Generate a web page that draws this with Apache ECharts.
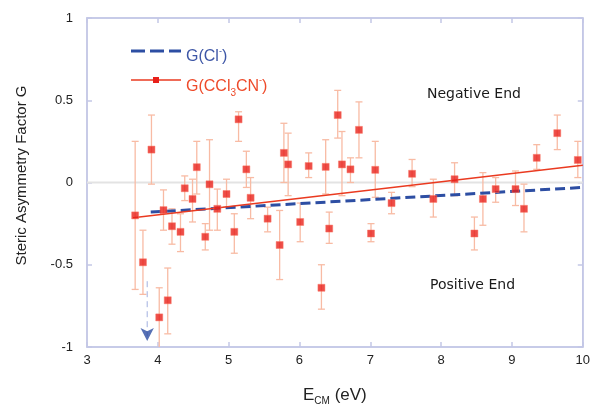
<!DOCTYPE html>
<html>
<head>
<meta charset="utf-8">
<script src="https://cdn.jsdelivr.net/npm/echarts@6/dist/echarts.min.js"></script>
<style>
  html, body { margin: 0; padding: 0; background: #fff; }
  #chart { width: 593px; height: 411px; }
</style>
</head>
<body>
<div id="chart"></div>
<script>
// Collision energy (eV) of each measurement
const energy = [3.68, 3.79, 3.91, 4.02, 4.08, 4.14, 4.20, 4.32, 4.38, 4.49, 4.55, 4.67, 4.73, 4.84, 4.97,
  5.08, 5.14, 5.25, 5.31, 5.55, 5.72, 5.78, 5.84, 6.01, 6.13, 6.31, 6.37, 6.42, 6.54, 6.60, 6.72, 6.84,
  7.01, 7.07, 7.30, 7.59, 7.89, 8.19, 8.47, 8.59, 8.77, 9.05, 9.17, 9.35, 9.64, 9.93];
// Steric asymmetry factor G for CCl3CN-
const gValues = [-0.20, -0.485, 0.20, -0.82, -0.168, -0.716, -0.266, -0.30, -0.035, -0.10, 0.093, -0.33, -0.011, -0.16, -0.07,
  -0.30, 0.384, 0.08, -0.093, -0.22, -0.38, 0.18, 0.11, -0.24, 0.10, -0.64, 0.095, -0.28, 0.41, 0.11, 0.08, 0.32,
  -0.31, 0.077, -0.125, 0.053, -0.10, 0.02, -0.31, -0.10, -0.04, -0.04, -0.16, 0.15, 0.30, 0.137];
// Lower / upper ends of the error bars
const errLow = [-0.65, -0.68, -0.01, -1.1, -0.29, -0.92, -0.375, -0.42, -0.11, -0.24, -0.07, -0.41, -0.29, -0.29, -0.15,
  -0.43, 0.25, -0.03, -0.22, -0.30, -0.59, 0.0, -0.08, -0.36, 0.03, -0.77, -0.07, -0.37, 0.27, -0.08, 0.0, 0.15,
  -0.36, -0.09, -0.19, -0.025, -0.21, -0.08, -0.41, -0.26, -0.12, -0.14, -0.30, 0.08, 0.20, 0.03];
const errHigh = [0.25, -0.29, 0.41, -0.64, -0.045, -0.52, -0.16, -0.19, 0.04, 0.02, 0.25, -0.25, 0.26, -0.04, 0.02,
  -0.19, 0.43, 0.19, 0.03, -0.15, -0.17, 0.36, 0.30, -0.125, 0.18, -0.50, 0.26, -0.18, 0.56, 0.31, 0.15, 0.49,
  -0.25, 0.25, -0.06, 0.14, 0.02, 0.12, -0.21, 0.06, 0.03, 0.07, -0.01, 0.23, 0.41, 0.25];

// Linear fits
const fitCCl3CN = [[3.65, -0.215], [10, 0.105]];
const fitCl = [[3.9, -0.18], [10, -0.03]];
// Threshold marker for Cl-
const thresholdX = 3.85;
const thresholdLine = [[thresholdX, -0.60], [thresholdX, -0.935]];
const thresholdTip = [[thresholdX, -0.963]];

const xTicks = { min: 3, max: 10, interval: 1 };
const yTicks = { min: -1, max: 1, interval: 0.5 };

const points = energy.map((e, i) => [e, gValues[i]]);
const bars = energy.map((e, i) => [e, errLow[i], errHigh[i]]);

const frameColor = '#c4c7e6';
const labelFont = { fontFamily: 'Liberation Sans, Arial, sans-serif', fontSize: 13, color: '#222' };

const chart = echarts.init(document.getElementById('chart'), null, { renderer: 'canvas' });

const axisCommon = {
  axisLine: { show: true, onZero: false, lineStyle: { color: frameColor, width: 1.5 } },
  axisTick: { show: true, inside: true, length: 5, lineStyle: { color: frameColor, width: 1.5 } },
  splitLine: { show: false }
};

chart.setOption({
  animation: false,
  backgroundColor: '#fff',
  grid: {
    left: 87, right: 6, top: 18, bottom: 61, containLabel: false,
    show: true, borderColor: frameColor, borderWidth: 1.5, backgroundColor: 'transparent'
  },
  xAxis: [
    Object.assign({
      type: 'value', position: 'bottom', min: xTicks.min, max: xTicks.max, interval: xTicks.interval,
      axisLabel: Object.assign({ margin: 7 }, labelFont),
      name: '{e|E}{sub|CM}{e| (eV)}',
      nameLocation: 'middle', nameGap: 37,
      nameTextStyle: {
        rich: {
          e: { fontFamily: 'Liberation Sans, Arial, sans-serif', fontSize: 17, color: '#222' },
          sub: { fontFamily: 'Liberation Sans, Arial, sans-serif', fontSize: 10, color: '#222', verticalAlign: 'bottom', padding: [12, 0, 0, 0] }
        }
      }
    }, axisCommon),
    Object.assign({
      type: 'value', position: 'top', min: xTicks.min, max: xTicks.max, interval: xTicks.interval,
      axisLabel: { show: false }
    }, axisCommon)
  ],
  yAxis: [
    Object.assign({
      type: 'value', position: 'left', min: yTicks.min, max: yTicks.max, interval: yTicks.interval,
      axisLabel: Object.assign({ margin: 14 }, labelFont),
      name: 'Steric Asymmetry Factor G',
      nameLocation: 'middle', nameGap: 58, nameRotate: 90,
      nameTextStyle: { fontFamily: 'Liberation Sans, Arial, sans-serif', fontSize: 15, color: '#222', padding: [0, 0, 0, 14] }
    }, axisCommon),
    Object.assign({
      type: 'value', position: 'right', min: yTicks.min, max: yTicks.max, interval: yTicks.interval,
      axisLabel: { show: false }
    }, axisCommon)
  ],
  series: [
    {
      // zero reference line
      type: 'line', data: [[3, 0], [10, 0]], symbol: 'none', silent: true, z: 1,
      lineStyle: { color: '#e3e3e3', width: 2 }
    },
    {
      type: 'custom', name: 'errors', z: 2, clip: true,
      data: bars,
      renderItem: function (params, api) {
        const x = api.value(0);
        const lo = api.coord([x, api.value(1)]);
        const hi = api.coord([x, api.value(2)]);
        const cap = 3.5;
        const style = { stroke: '#f8bba4', lineWidth: 1.3, fill: null };
        return {
          type: 'group',
          children: [
            { type: 'line', shape: { x1: lo[0], y1: lo[1], x2: hi[0], y2: hi[1] }, style: style },
            { type: 'line', shape: { x1: lo[0] - cap, y1: lo[1], x2: lo[0] + cap, y2: lo[1] }, style: style },
            { type: 'line', shape: { x1: hi[0] - cap, y1: hi[1], x2: hi[0] + cap, y2: hi[1] }, style: style }
          ]
        };
      }
    },
    {
      type: 'line', name: 'G(Cl-)', data: fitCl, symbol: 'none', z: 3,
      lineStyle: { color: '#2d4ea3', width: 3, type: [10, 5] }
    },
    {
      type: 'line', name: 'G(CCl3CN-)', data: fitCCl3CN, symbol: 'none', z: 4,
      lineStyle: { color: '#ea3a20', width: 1.5 }
    },
    {
      type: 'scatter', name: 'G(CCl3CN-) data', data: points, z: 5,
      symbol: 'rect', symbolSize: 7,
      itemStyle: { color: '#e8201a', borderColor: 'rgba(250,120,100,0.6)', borderWidth: 1 }
    },
    {
      type: 'line', data: thresholdLine, symbol: 'none', z: 3,
      lineStyle: { color: '#a3b0e0', width: 1, type: [6, 4] }
    },
    {
      type: 'scatter', data: thresholdTip, z: 6, symbol: 'arrow', symbolRotate: 180, symbolSize: [10, 13],
      itemStyle: { color: '#2d4ea3' }
    }
  ],
  graphic: [
    // legend
    { type: 'line', shape: { x1: 131, y1: 51, x2: 181, y2: 51 }, style: { stroke: '#2d4ea3', lineWidth: 3, lineDash: [14, 5] } },
    {
      type: 'text', left: 186, top: 47,
      style: {
        text: '{t|G(Cl}{sup|-}{t|)}',
        rich: {
          t: { fontFamily: 'Liberation Sans, Arial, sans-serif', fontSize: 16, fill: '#3d56a6' },
          sup: { fontFamily: 'Liberation Sans, Arial, sans-serif', fontSize: 9, fill: '#3d56a6', verticalAlign: 'top', padding: [0, 0, 10, 0] }
        }
      }
    },
    { type: 'line', shape: { x1: 131, y1: 80, x2: 181, y2: 80 }, style: { stroke: '#ea3a20', lineWidth: 1.5 } },
    { type: 'rect', shape: { x: 153, y: 77, width: 6, height: 6 }, style: { fill: '#e8201a' } },
    {
      type: 'text', left: 186, top: 76,
      style: {
        text: '{t|G(CCl}{sub|3}{t|CN}{sup|-}{t|)}',
        rich: {
          t: { fontFamily: 'Liberation Sans, Arial, sans-serif', fontSize: 16, fill: '#ee4a2a' },
          sub: { fontFamily: 'Liberation Sans, Arial, sans-serif', fontSize: 10, fill: '#ee4a2a', verticalAlign: 'bottom', padding: [12, 0, 0, 0] },
          sup: { fontFamily: 'Liberation Sans, Arial, sans-serif', fontSize: 9, fill: '#ee4a2a', verticalAlign: 'top', padding: [0, 0, 10, 0] }
        }
      }
    },
    // region annotations
    {
      type: 'text', left: 427, top: 87,
      style: { text: 'Negative End', fontFamily: '"Comic Sans MS", "DejaVu Sans", sans-serif', fontSize: 14, fill: '#1a1a1a' }
    },
    {
      type: 'text', left: 430, top: 278,
      style: { text: 'Positive End', fontFamily: '"Comic Sans MS", "DejaVu Sans", sans-serif', fontSize: 14, fill: '#1a1a1a' }
    }
  ]
});
</script>
</body>
</html>
